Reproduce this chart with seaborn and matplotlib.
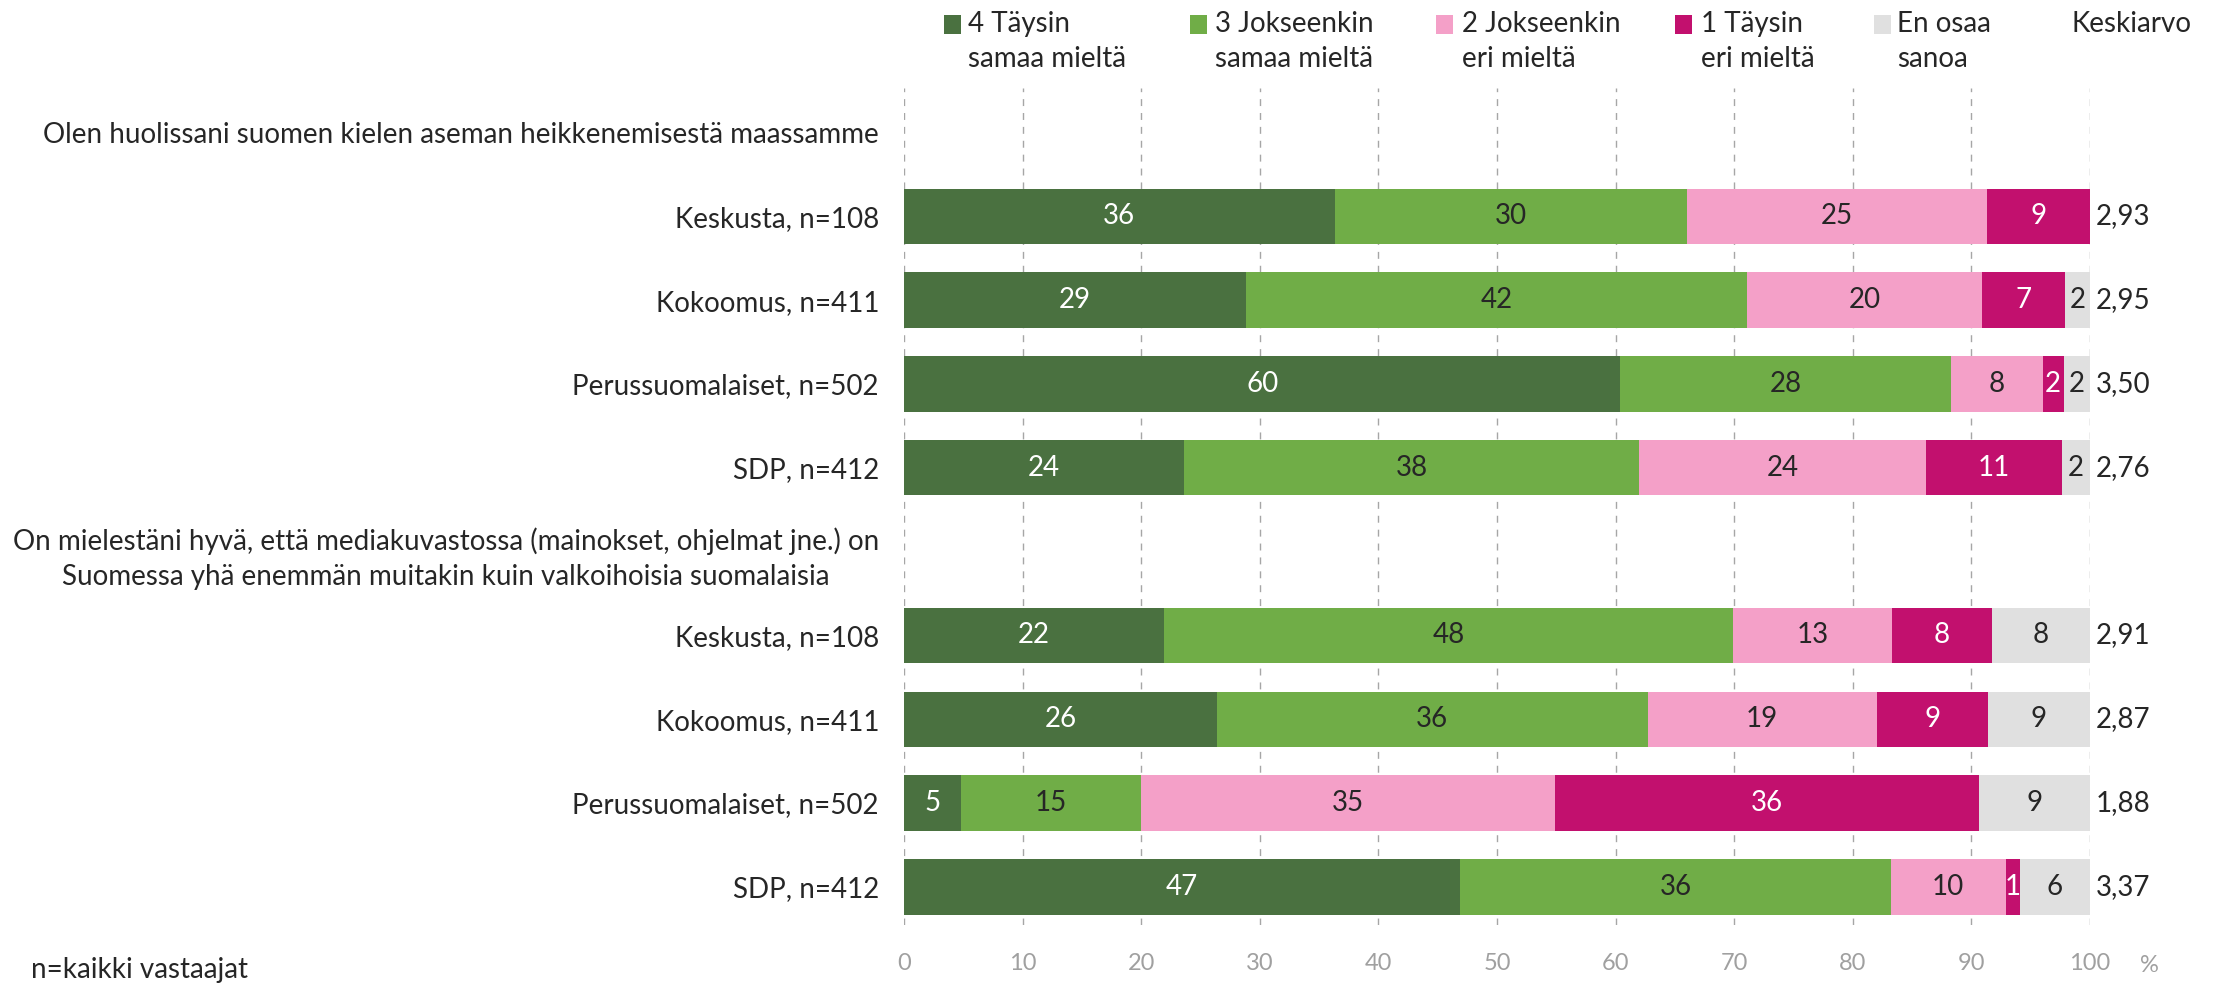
import matplotlib
matplotlib.use("Agg")
import matplotlib.pyplot as plt
import seaborn as sns
import pandas as pd
import numpy as np
from matplotlib.patches import Rectangle

# ---------------- data ----------------
groups = ["Keskusta, n=108", "Kokoomus, n=411", "Perussuomalaiset, n=502", "SDP, n=412"]
headings = [
    "Olen huolissani suomen kielen aseman heikkenemisestä maassamme",
    "On mielestäni hyvä, että mediakuvastossa (mainokset, ohjelmat jne.) on\n"
    "Suomessa yhä enemmän muitakin kuin valkoihoisia suomalaisia",
]
series_names = ["4 Täysin\nsamaa mieltä", "3 Jokseenkin\nsamaa mieltä", "2 Jokseenkin\neri mieltä",
                "1 Täysin\neri mieltä", "En osaa\nsanoa"]
# rows: statement 1 (4 groups), statement 2 (4 groups)
s4 = [36.3, 28.8, 60.4, 23.6, 21.9, 26.4, 4.8, 46.9]
s3 = [29.7, 42.3, 27.9, 38.4, 48.0, 36.3, 15.2, 36.3]
s2 = [25.3, 19.8, 7.7, 24.2, 13.4, 19.3, 34.9, 9.7]
s1 = [8.7, 7.0, 1.8, 11.4, 8.4, 9.4, 35.7, 1.2]
s0 = [0.0, 2.1, 2.2, 2.4, 8.3, 8.6, 9.4, 5.9]
means = [2.93, 2.95, 3.50, 2.76, 2.91, 2.87, 1.88, 3.37]
xticks = list(range(0, 101, 10))
mean_header = "Keskiarvo"
footnote = "n=kaikki vastaajat"

colors = ["#4A7140", "#70AD47", "#F4A0C8", "#C2106E", "#E0E0E0"]
text_colors = ["white", "#262626", "#262626", "white", "#262626"]

# ---------------- layout / theme ----------------
sns.set_theme(style="white")
plt.rcParams["font.family"] = ["Lato", "DejaVu Sans"]
DARK = "#262626"
GREY = "#A0A0A0"
FS = 20
LS = 1.45

W, H = 2216, 984
fig = plt.figure(figsize=(W / 100, H / 100), dpi=100)
ax = fig.add_axes([904 / W, 1 - 925 / H, (2090 - 904) / W, (925 - 88) / H])

slot_ids = [f"slot{i}" for i in range(10)]
data_slots = [1, 2, 3, 4, 6, 7, 8, 9]
df = pd.DataFrame({"row": [slot_ids[i] for i in data_slots]})
series = [s4, s3, s2, s1, s0]
cum = np.cumsum(np.array(series), axis=0)
for k in range(len(series)):
    df[f"c{k}"] = cum[k]

# stacked bars: draw cumulative layers, largest first
for k in reversed(range(len(series))):
    sns.barplot(data=df, x=f"c{k}", y="row", order=slot_ids, orient="h",
                color=colors[k], saturation=1, width=0.66, linewidth=0,
                errorbar=None, ax=ax, zorder=2)

# segment labels
for j, slot in enumerate(data_slots):
    for k in range(len(series)):
        v = series[k][j]
        if v <= 0:
            continue
        center = cum[k][j] - v / 2
        ax.text(center, slot, f"{v:.0f}", ha="center", va="center",
                color=text_colors[k], fontsize=FS, zorder=3)
    ax.text(100.5, slot, f"{means[j]:.2f}".replace(".", ","), ha="left", va="center",
            color=DARK, fontsize=FS)

# y labels
labels = [headings[0]] + groups + [headings[1]] + groups
ax.set_yticks(range(10))
ax.set_yticklabels(labels, fontsize=FS, color=DARK)
for t in ax.get_yticklabels():
    t.set_multialignment("center")
    t.set_linespacing(LS)
ax.set_ylim(9.455, -0.53)
ax.set_ylabel("")
ax.set_xlabel("")

ax.set_xlim(0, 100)
ax.set_xticks(xticks)
ax.set_xticklabels([str(x) for x in xticks], fontsize=17, color=GREY)
ax.tick_params(axis="both", length=0)
ax.tick_params(axis="y", pad=18)
ax.tick_params(axis="x", pad=20)
for s in ax.spines.values():
    s.set_visible(False)
ax.xaxis.grid(True, linestyle=(0, (5, 5)), color="#A6A6A6", linewidth=1.0)
ax.yaxis.grid(False)
ax.set_axisbelow(True)

ax.text(105, (925 - 965) / (925 - 88), "%", transform=ax.get_xaxis_transform(),
        ha="center", va="center", fontsize=17, color=GREY)

# legend (manual)
sq_x = [944, 1190, 1436, 1675, 1874]
tx_x = [968, 1215, 1462, 1701, 1897]
for k in range(len(series)):
    fig.patches.append(Rectangle((sq_x[k] / W, 1 - 34 / H), 17 / W, 19 / H,
                                 transform=fig.transFigure, facecolor=colors[k],
                                 edgecolor="none"))
    fig.text(tx_x[k] / W, 1 - 11 / H, series_names[k], ha="left", va="top",
             fontsize=FS, color=DARK, linespacing=LS)
fig.text(2071 / W, 1 - 11 / H, mean_header, ha="left", va="top", fontsize=FS, color=DARK)

fig.text(31 / W, 1 - 970 / H, footnote, ha="left", va="center", fontsize=FS, color=DARK)

fig.savefig("out.png", dpi=100)
